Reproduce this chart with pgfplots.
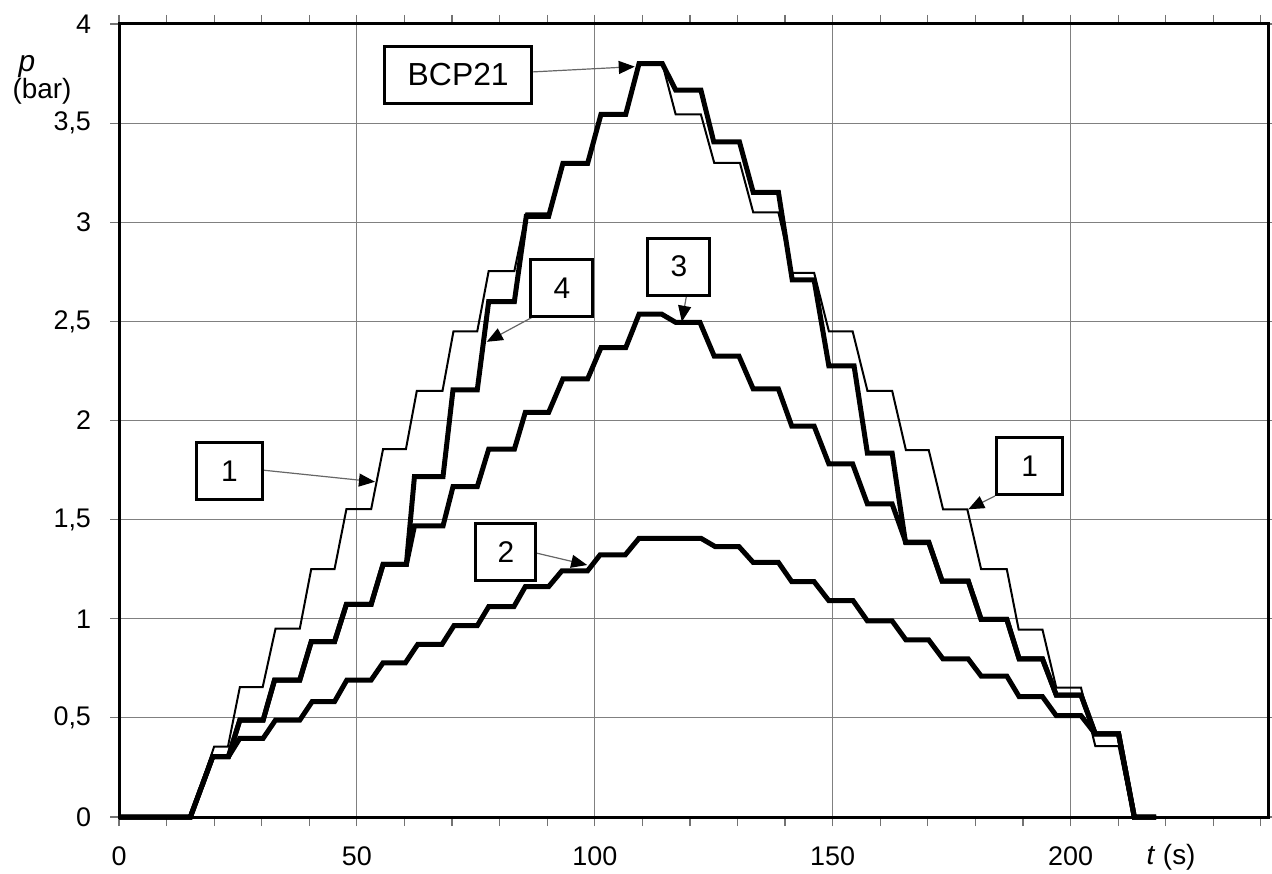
\documentclass[border=0pt]{standalone}
\usepackage{fontspec}
\setmainfont{Liberation Sans}
\usepackage{pgfplots}
\pgfplotsset{compat=1.18}
\usetikzlibrary{arrows.meta}

\begin{document}
\begin{tikzpicture}
\begin{axis}[
  scale only axis,
  width=574.5bp, height=396.5bp,
  xmin=0, xmax=241.5, ymin=0, ymax=4,
  xtick={0,50,100,150,200},
  minor xtick={10,20,...,240},
  ytick={0,0.5,...,4},
  yticklabels={0,{0,5},1,{1,5},2,{2,5},3,{3,5},4},
  grid=major,
  major grid style={black!50, line width=0.6bp},
  tick align=outside,
  major tick length=4.5bp, minor tick length=4.5bp,
  every tick/.style={black!55, line width=0.6bp},
  axis line style={line width=1.5bp},
  tick label style={font=\fontsize{13.5}{16}\selectfont},
  /pgf/number format/assume math mode=true,
  xticklabel style={yshift=-7bp},
  yticklabel style={xshift=-6bp},
  clip=false,
  line join=miter,
]
% curve 1 (thin)
\addplot[black, line width=1bp] coordinates {
  (0,0) (15,0) (20,0.355) (22.9,0.355) (25.4,0.655) (30.2,0.655) (32.9,0.95) (38,0.95)
  (40.4,1.25) (45.3,1.25) (47.8,1.553) (53,1.553) (55.5,1.855) (60.3,1.855)
  (62.6,2.15) (68,2.15) (70.3,2.45) (75.3,2.45) (77.7,2.754) (83.1,2.754)
  (85.6,3.045) (90.3,3.045) (93.3,3.297) (98.5,3.297) (101.3,3.544) (106.5,3.544)
  (109.3,3.80) (114.2,3.80) (117,3.544) (122.3,3.544) (125.1,3.30) (130.5,3.30)
  (133.3,3.05) (138.6,3.05) (141.5,2.745) (146.1,2.745) (149.2,2.45) (154.2,2.45)
  (157.3,2.15) (162.5,2.15) (165.4,1.85) (170.2,1.85) (173.2,1.552) (178.3,1.552)
  (181.2,1.25) (186.6,1.25) (189.1,0.945) (194.1,0.945) (197,0.652) (202.2,0.652)
  (205.2,0.358) (210.1,0.358) (213.2,0) (218.3,0)
};
% curve 2
\addplot[black, line width=2.5bp] coordinates {
  (0,0) (15,0) (19.7,0.304) (23,0.304) (25.4,0.397) (30.3,0.397) (32.9,0.489) (38,0.489)
  (40.6,0.582) (45.3,0.582) (47.9,0.691) (53,0.691) (55.5,0.778) (60.2,0.778)
  (62.8,0.871) (67.9,0.871) (70.4,0.965) (75.3,0.965) (77.7,1.061) (83,1.061)
  (85.4,1.162) (90.3,1.162) (93.1,1.242) (98.5,1.242) (101.1,1.322) (106.4,1.322)
  (109.3,1.406) (122.3,1.406) (125.3,1.364) (130.3,1.364) (133.3,1.284) (138.6,1.284)
  (141.4,1.187) (146.1,1.187) (149.2,1.091) (154.3,1.091) (157.3,0.989) (162.5,0.989)
  (165.4,0.893) (170.2,0.893) (173.2,0.797) (178.5,0.797) (181.2,0.711) (186.6,0.711)
  (189.2,0.607) (194.1,0.607) (197,0.511) (202.2,0.511) (205.2,0.419) (210.1,0.419)
  (213.4,0) (218,0)
};
% curve 3
\addplot[black, line width=2.5bp] coordinates {
  (0,0) (15,0) (19.7,0.304) (23,0.304) (25.4,0.489) (30.3,0.489) (32.7,0.691) (38,0.691)
  (40.4,0.884) (45.3,0.884) (47.8,1.073) (53,1.073) (55.5,1.274) (60.4,1.274)
  (62.1,1.468) (68.1,1.468) (70.2,1.666) (75.3,1.666) (77.7,1.855) (83.1,1.855)
  (85.4,2.041) (90.3,2.041) (93.3,2.21) (98.5,2.21) (101.3,2.367) (106.5,2.367)
  (109.3,2.536) (114.1,2.536) (117,2.495) (122.1,2.495) (125.1,2.325) (130.3,2.325)
  (133.3,2.159) (138.6,2.159) (141.4,1.972) (146.1,1.972) (149.2,1.781) (154.2,1.781)
  (157.3,1.579) (162.5,1.579) (165.4,1.384) (170.2,1.384) (173,1.19) (178.5,1.19)
  (181.2,0.997) (186.6,0.997) (189.2,0.797) (194.1,0.797) (197,0.615) (202.2,0.615)
  (205.2,0.419) (210.1,0.419) (213.4,0) (218,0)
};
% curve 4 / BCP21
\addplot[black, line width=2.5bp] coordinates {
  (0,0) (15,0) (19.7,0.304) (23,0.304) (25.4,0.489) (30.3,0.489) (32.7,0.691) (38,0.691)
  (40.4,0.884) (45.3,0.884) (47.8,1.073) (53,1.073) (55.5,1.274) (60.4,1.274)
  (62.1,1.717) (68.1,1.717) (70.2,2.154) (75.3,2.154) (77.7,2.60) (83.1,2.60)
  (85.6,3.03) (90.3,3.03) (93.3,3.297) (98.5,3.297) (101.3,3.544) (106.5,3.544)
  (109.3,3.80) (114.2,3.80) (117,3.667) (122.3,3.667) (125,3.406) (130.4,3.406)
  (133.3,3.151) (138.6,3.151) (141.5,2.709) (146.1,2.709) (149.2,2.275) (154.5,2.275)
  (157.3,1.835) (162.5,1.835) (165.3,1.386) (170.2,1.386) (173,1.19) (178.5,1.19)
  (181.2,0.997) (186.6,0.997) (189.2,0.797) (194.1,0.797) (197,0.615) (202.2,0.615)
  (205.2,0.419) (210.1,0.419) (213.4,0) (218,0)
};
% callouts
\tikzset{
  lbl/.style={draw=black, line width=1.5bp, fill=white, minimum height=28.5bp,
    minimum width=31bp, inner sep=0pt, font=\fontsize{15}{18}\selectfont},
  arr/.style={draw=black!60, line width=0.6bp,
    -{Triangle[length=8bp,width=6.5bp,black]}},
}
\draw[arr] (axis cs:86.7,3.758) -- (axis cs:108.4,3.785);
\draw[arr] (axis cs:86.8,2.52) -- (axis cs:77.3,2.397);
\draw[arr] (axis cs:119.3,2.633) -- (axis cs:118.3,2.498);
\draw[arr] (axis cs:30.1,1.75) -- (axis cs:53.8,1.691);
\draw[arr] (axis cs:87.6,1.332) -- (axis cs:98.4,1.271);
\draw[arr] (axis cs:184.1,1.619) -- (axis cs:178.5,1.552);
\node[lbl, minimum width=73.3bp, font=\fontsize{16}{19}\selectfont] at (axis cs:71.3,3.745) {BCP21};
\node[lbl] at (axis cs:93.1,2.667) {4};
\node[lbl] at (axis cs:117.7,2.776) {3};
\node[lbl, minimum width=32.8bp] at (axis cs:23.2,1.746) {1};
\node[lbl, minimum width=30bp] at (axis cs:81.3,1.338) {2};
\node[lbl, minimum width=33bp] at (axis cs:191.4,1.769) {1};
\end{axis}
\node[font=\fontsize{15}{18}\selectfont\itshape] at (-46bp,375bp) {p};
\node[font=\fontsize{14}{17}\selectfont] at (-38.5bp,363bp) {(bar)};
\node[font=\fontsize{14}{17}\selectfont] at (526bp,-20bp) {\textit{t} (s)};
\pgfresetboundingbox
\path[use as bounding box] (-59.5bp,-28.5bp) rectangle (576.5bp,408.5bp);
\end{tikzpicture}
\end{document}
